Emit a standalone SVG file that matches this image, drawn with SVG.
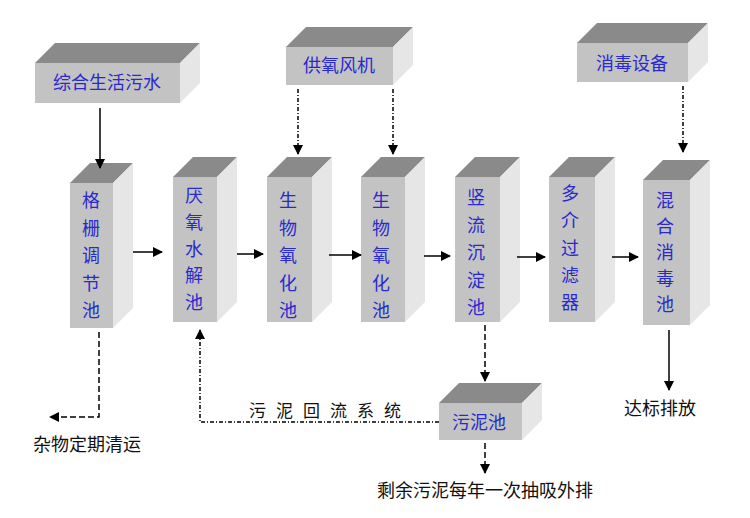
<svg xmlns="http://www.w3.org/2000/svg" width="750" height="518" viewBox="0 0 750 518">
<defs>
<marker id="ah" markerWidth="10" markerHeight="10" refX="9" refY="5" orient="auto" markerUnits="userSpaceOnUse">
<path d="M0,0 L10,5 L0,10 Z" fill="#000"/>
</marker>
</defs>
<style>
.front{fill:#c3c3c3}
.top{fill:#8a8a8a}
.side{fill:#e6e6e6}
.lbl{font-family:"Noto Sans CJK SC","Noto Sans CJK TC",sans-serif;font-size:18px;fill:#2a2acc;text-anchor:middle}
.txt{font-family:"Noto Sans CJK SC","Noto Sans CJK TC",sans-serif;font-size:18px;fill:#111}
.ln{stroke:#000;stroke-width:1.5;fill:none}
.dash{stroke:#000;stroke-width:1.5;fill:none;stroke-dasharray:6,3}
.dd{stroke:#000;stroke-width:1.5;fill:none;stroke-dasharray:4,2,1,2}
</style>
<rect width="750" height="518" fill="#fff"/>

<g id="n-wastewater">
<rect class="front" x="35" y="63" width="145" height="40"/>
<polygon class="top" points="35,63 55,43 200,43 180,63"/>
<polygon class="side" points="180,63 200,43 200,83 180,103"/>
<text class="lbl" x="107" y="89">综合生活污水</text>
</g>

<g id="n-blower">
<rect class="front" x="286" y="47" width="107" height="38"/>
<polygon class="top" points="286,47 306,27 413,27 393,47"/>
<polygon class="side" points="393,47 413,27 413,65 393,85"/>
<text class="lbl" x="339" y="72">供氧风机</text>
</g>

<g id="n-disinfect-equip">
<rect class="front" x="577" y="43" width="111" height="39"/>
<polygon class="top" points="577,43 597,23 708,23 688,43"/>
<polygon class="side" points="688,43 708,23 708,62 688,82"/>
<text class="lbl" x="632" y="70">消毒设备</text>
</g>

<g id="n-grid">
<rect class="front" x="70" y="183" width="43" height="145"/>
<polygon class="top" points="70,183 90,163 133,163 113,183"/>
<polygon class="side" points="113,183 133,163 133,308 113,328"/>
<text class="lbl" x="91" y="207"><tspan x="91">格</tspan><tspan x="91" dy="27.5">栅</tspan><tspan x="91" dy="27.5">调</tspan><tspan x="91" dy="27.5">节</tspan><tspan x="91" dy="27.5">池</tspan></text>
</g>

<g id="n-anaerobic">
<rect class="front" x="173" y="177" width="44" height="145"/>
<polygon class="top" points="173,177 193,157 237,157 217,177"/>
<polygon class="side" points="217,177 237,157 237,302 217,322"/>
<text class="lbl" x="194" y="202"><tspan x="194">厌</tspan><tspan x="194" dy="26.8">氧</tspan><tspan x="194" dy="26.8">水</tspan><tspan x="194" dy="26.8">解</tspan><tspan x="194" dy="26.8">池</tspan></text>
</g>

<g id="n-bio1">
<rect class="front" x="267" y="177" width="45" height="145"/>
<polygon class="top" points="267,177 287,157 332,157 312,177"/>
<polygon class="side" points="312,177 332,157 332,302 312,322"/>
<text class="lbl" x="288" y="207"><tspan x="288">生</tspan><tspan x="288" dy="27.5">物</tspan><tspan x="288" dy="27.5">氧</tspan><tspan x="288" dy="27.5">化</tspan><tspan x="288" dy="27.5">池</tspan></text>
</g>

<g id="n-bio2">
<rect class="front" x="361" y="177" width="44" height="145"/>
<polygon class="top" points="361,177 381,157 425,157 405,177"/>
<polygon class="side" points="405,177 425,157 425,302 405,322"/>
<text class="lbl" x="381" y="207"><tspan x="381">生</tspan><tspan x="381" dy="27.5">物</tspan><tspan x="381" dy="27.5">氧</tspan><tspan x="381" dy="27.5">化</tspan><tspan x="381" dy="27.5">池</tspan></text>
</g>

<g id="n-settle">
<rect class="front" x="455" y="177" width="45" height="145"/>
<polygon class="top" points="455,177 475,157 520,157 500,177"/>
<polygon class="side" points="500,177 520,157 520,302 500,322"/>
<text class="lbl" x="476" y="204"><tspan x="476">竖</tspan><tspan x="476" dy="27.5">流</tspan><tspan x="476" dy="27.5">沉</tspan><tspan x="476" dy="27.5">淀</tspan><tspan x="476" dy="27.5">池</tspan></text>
</g>

<g id="n-filter">
<rect class="front" x="549" y="177" width="46" height="145"/>
<polygon class="top" points="549,177 569,157 615,157 595,177"/>
<polygon class="side" points="595,177 615,157 615,302 595,322"/>
<text class="lbl" x="570" y="200"><tspan x="570">多</tspan><tspan x="570" dy="27.3">介</tspan><tspan x="570" dy="27.3">过</tspan><tspan x="570" dy="27.3">滤</tspan><tspan x="570" dy="27.3">器</tspan></text>
</g>

<g id="n-disinfect">
<rect class="front" x="643" y="180" width="47" height="145"/>
<polygon class="top" points="643,180 663,160 710,160 690,180"/>
<polygon class="side" points="690,180 710,160 710,305 690,325"/>
<text class="lbl" x="665" y="207"><tspan x="665">混</tspan><tspan x="665" dy="26">合</tspan><tspan x="665" dy="26">消</tspan><tspan x="665" dy="26">毒</tspan><tspan x="665" dy="26">池</tspan></text>
</g>

<g id="n-sludge">
<rect class="front" x="439" y="403" width="83" height="37"/>
<polygon class="top" points="439,403 459,383 542,383 522,403"/>
<polygon class="side" points="522,403 542,383 542,420 522,440"/>
<text class="lbl" x="479" y="429">污泥池</text>
</g>

<g id="connectors">
<line class="ln" x1="100" y1="108" x2="100" y2="168" marker-end="url(#ah)"/>
<line class="ln" x1="133" y1="252" x2="162" y2="252" marker-end="url(#ah)"/>
<line class="ln" x1="237" y1="254" x2="263" y2="254" marker-end="url(#ah)"/>
<line class="ln" x1="329" y1="255" x2="361" y2="255" marker-end="url(#ah)"/>
<line class="ln" x1="424" y1="256" x2="450" y2="256" marker-end="url(#ah)"/>
<line class="ln" x1="517" y1="257" x2="545" y2="257" marker-end="url(#ah)"/>
<line class="ln" x1="612" y1="257" x2="638" y2="257" marker-end="url(#ah)"/>
<line class="dd" x1="298" y1="89" x2="298" y2="154" marker-end="url(#ah)"/>
<line class="dd" x1="393" y1="89" x2="393" y2="154" marker-end="url(#ah)"/>
<line class="dd" x1="683" y1="86" x2="683" y2="152" marker-end="url(#ah)"/>
<line class="ln" x1="669" y1="330" x2="669" y2="390" marker-end="url(#ah)"/>
<polyline class="dash" points="99,332 99,417 50,417" marker-end="url(#ah)"/>
<polyline class="dd" points="439,422 200,422 200,330" marker-end="url(#ah)"/>
<line class="dash" x1="485" y1="325" x2="485" y2="381" marker-end="url(#ah)"/>
<line class="dash" x1="485" y1="443" x2="485" y2="473" marker-end="url(#ah)"/>
</g>

<g id="labels">
<text class="txt" x="33" y="451">杂物定期清运</text>
<text class="txt" x="249" y="417" font-size="17" style="font-size:17px"><tspan x="249">污</tspan><tspan x="276">泥</tspan><tspan x="303">回</tspan><tspan x="330">流</tspan><tspan x="357">系</tspan><tspan x="384">统</tspan></text>
<text class="txt" x="624" y="415">达标排放</text>
<text class="txt" x="377" y="497">剩余污泥每年一次抽吸外排</text>
</g>
</svg>
